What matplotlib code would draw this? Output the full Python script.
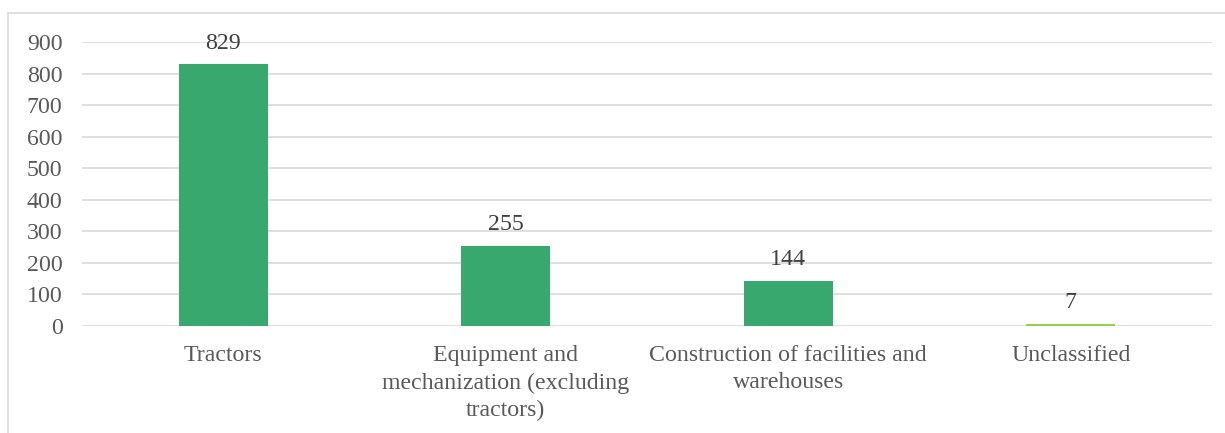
import matplotlib
matplotlib.use("Agg")
import matplotlib.pyplot as plt
from matplotlib.patches import Rectangle

categories = ["Tractors", "Equipment and\nmechanization (excluding\ntractors)",
              "Construction of facilities and\nwarehouses", "Unclassified"]
values = [829, 255, 144, 7]
colors = ["#38A86E", "#38A86E", "#38A86E", "#92D050"]
yticks = [0, 100, 200, 300, 400, 500, 600, 700, 800, 900]

plt.rcParams['font.family'] = ['Liberation Serif', 'DejaVu Serif']
FS = 17.2

fig = plt.figure(figsize=(12.25, 4.33), dpi=100)
fig.patches.append(Rectangle((8/1225, -0.1), 1.2, 1 - 13/433 + 0.1, transform=fig.transFigure,
                             fill=False, edgecolor="#D9D9D9", linewidth=1.2, zorder=0))
ax = fig.add_axes([82/1225, 1 - 326/433, 1130/1225, (326 - 42)/433])
x = list(range(len(categories)))
ax.bar(x, values, width=0.315, color=colors, zorder=3)
ax.set_xlim(-0.5, 3.5)
ax.set_ylim(0, 900)
ax.set_yticks(yticks)
ax.set_xticks(x)
ax.set_xticklabels(categories, fontsize=FS, color="#595959", linespacing=1.37, va='top')
ax.tick_params(axis='y', labelsize=FS, labelcolor="#595959", length=0, pad=14)
ax.tick_params(axis='x', length=0, pad=14)
ax.grid(axis='y', color="#D9D9D9", linewidth=1.2, zorder=0)
for s in ax.spines.values():
    s.set_visible(False)
for xi, v in zip(x, values):
    ax.annotate(str(v), (xi, v), xytext=(0, 15), textcoords='offset points',
                ha='center', va='center', fontsize=FS, color="#404040", clip_on=False, zorder=4)
fig.savefig("out.png", dpi=100)
